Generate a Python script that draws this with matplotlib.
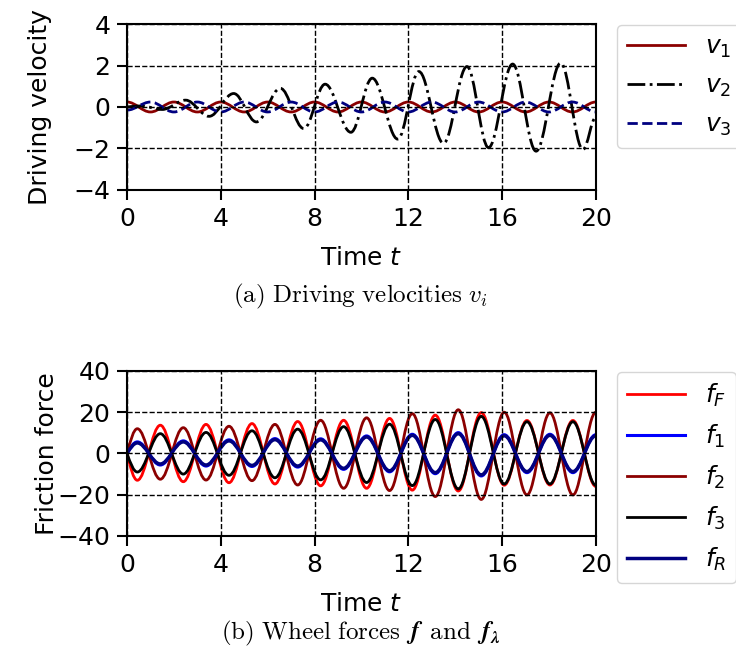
import numpy as np
import matplotlib
matplotlib.use('Agg')
import matplotlib.pyplot as plt
from matplotlib.path import Path
from matplotlib.patches import PathPatch

# (a) driving velocities - extrema
v_t = [0, 1, 2, 3, 4, 5, 6, 7, 8, 9, 10, 11, 12, 13, 14, 15, 16, 17, 18, 19, 20]
v1 = [0.24, -0.24, 0.24, -0.24, 0.24, -0.24, 0.24, -0.24, 0.24, -0.24, 0.24,
      -0.24, 0.24, -0.24, 0.24, -0.24, 0.24, -0.24, 0.24, -0.24, 0.24]
v3 = [-0.15, 0.24, -0.24, 0.24, -0.24, 0.24, -0.24, 0.24, -0.24, 0.24, -0.24,
      0.24, -0.24, 0.24, -0.24, 0.24, -0.24, 0.24, -0.24, 0.24, -0.24]
v2_t = [0, 0.6, 1.5, 2.5, 3.5, 4.55, 5.52, 6.54, 7.54, 8.45, 9.55, 10.46, 11.55,
        12.45, 13.5, 14.5, 15.42, 16.45, 17.45, 18.5, 19.45, 20.0]
v2 = [0, 0.05, -0.12, 0.33, -0.45, 0.65, -0.72, 0.9, -1.04, 1.1, -1.22, 1.39,
      -1.55, 1.71, -1.75, 1.95, -1.96, 2.07, -2.13, 2.12, -2.05, -0.5]

# (b) wheel forces - extrema
f_t = [0, 0.44, 1.42, 2.40, 3.37, 4.35, 5.33, 6.31, 7.28, 8.26, 9.24, 10.22,
       11.20, 12.17, 13.15, 14.13, 15.11, 16.09, 17.06, 18.04, 19.02, 20.0]
fF = [0, -13.0, 13.7, -13.7, 14.1, -14.2, 14.5, -14.8, 15.5, -15.7, 16.1, -16.9,
      17.0, -17.8, 18.6, -18.2, 19.8, -15.4, 16.0, -15.3, 16.0, -16.0]
f1 = [0, 5.6, -5.6, 6.1, -6.1, 6.6, -6.3, 7.2, -6.6, 7.1, -7.7, 8.5,
      -8.9, 9.3, -9.8, 10.1, -10.9, 9.1, -9.3, 9.3, -9.3, 9.1]
f2 = [0, 12.0, -12.5, 12.5, -12.9, 13.2, -13.2, 14.1, -15.3, 16.1, -16.9, 17.3,
      -18.0, 19.3, -20.9, 21.2, -22.3, 20.0, -20.1, 19.7, -20.1, 20.0]
f3 = [0, -9.0, 9.6, -10.0, 10.2, -10.6, 11.0, -11.8, 11.8, -12.8, 13.0, -14.1,
      14.2, -15.6, 16.5, -17.2, 18.0, -14.8, 15.4, -14.8, 15.4, -15.4]
fR = [0, 5.1, -5.1, 5.6, -5.6, 6.1, -5.8, 6.7, -6.1, 6.6, -7.2, 8.0,
      -8.4, 8.8, -9.3, 9.6, -10.4, 8.6, -8.8, 8.8, -8.8, 8.6]

x_ticks = [0, 4, 8, 12, 16, 20]
v_ticks = [-4, -2, 0, 2, 4]
f_ticks = [-40, -20, 0, 20, 40]


def wave(ax, tp, yp, color, lw, ls='-', label=None):
    # smooth curve through the extrema (bezier, flat tangent at each extremum)
    verts = [(tp[0], yp[0])]
    codes = [Path.MOVETO]
    a = 1 - 2 / np.pi
    for i in range(len(tp) - 1):
        dx = tp[i + 1] - tp[i]
        dy = yp[i + 1] - yp[i]
        if i == 0 and yp[0] == 0:
            c1 = (tp[i] + dx / 3, yp[i] + dy * np.pi / 6)
        else:
            c1 = (tp[i] + a * dx, yp[i])
        c2 = (tp[i + 1] - a * dx, yp[i + 1])
        verts += [c1, c2, (tp[i + 1], yp[i + 1])]
        codes += [Path.CURVE4] * 3
    ax.add_patch(PathPatch(Path(verts, codes), fill=False, edgecolor=color,
                           lw=lw, ls=ls, capstyle='butt', joinstyle='round'))
    ax.plot([], [], color=color, lw=lw, ls=ls, label=label)


plt.rcParams['font.size'] = 18

fig = plt.figure(figsize=(7.36, 6.56), dpi=100)
ax1 = fig.add_axes([0.1726, 0.7104, 0.637, 0.253])
ax2 = fig.add_axes([0.1726, 0.183, 0.637, 0.2515])

wave(ax1, v_t, v1, 'darkred', 2, '-', '$v_1$')
wave(ax1, v2_t, v2, 'black', 2, '-.', '$v_2$')
wave(ax1, v_t, v3, 'navy', 2, '--', '$v_3$')

wave(ax2, f_t, fF, 'red', 2, '-', '$f_F$')
wave(ax2, f_t, f1, 'blue', 2.2, '-', '$f_1$')
wave(ax2, f_t, f2, 'darkred', 2, '-', '$f_2$')
wave(ax2, f_t, f3, 'black', 2, '-', '$f_3$')
wave(ax2, f_t, fR, 'navy', 2.5, '-', '$f_R$')

for ax, yt, ylab, lx in [(ax1, v_ticks, 'Driving velocity', -0.16),
                         (ax2, f_ticks, 'Friction force', -0.145)]:
    ax.set_xlim(0, 20)
    ax.set_ylim(yt[0], yt[-1])
    ax.set_xticks(x_ticks)
    ax.set_yticks(yt)
    ax.set_xlabel('Time $t$', labelpad=11)
    ax.set_ylabel(ylab)
    ax.yaxis.set_label_coords(lx, 0.5)
    ax.grid(True, ls='--', color='black', lw=1)
    for s in ax.spines.values():
        s.set_linewidth(1.5)
    ax.tick_params(width=1.5, length=7, pad=5)
    ax.legend(loc='upper left', bbox_to_anchor=(1.03, 1.04), handlelength=2.3,
              labelspacing=0.55, borderaxespad=0.3)

fig.text(0.49, 1 - 296 / 656, r'$\mathrm{(a)\ Driving\ velocities}\ v_i$',
         ha='center', va='center', math_fontfamily='cm', fontsize=18)
fig.text(0.49, 1 - 633 / 656,
         r'$\mathrm{(b)\ Wheel\ forces}\ \,\mathbfit{f}\ \,\mathrm{and}\ \,\mathbfit{f}_{\mathbfit{\lambda}}$',
         ha='center', va='center', math_fontfamily='cm', fontsize=18)

fig.savefig('out.png', dpi=100)
